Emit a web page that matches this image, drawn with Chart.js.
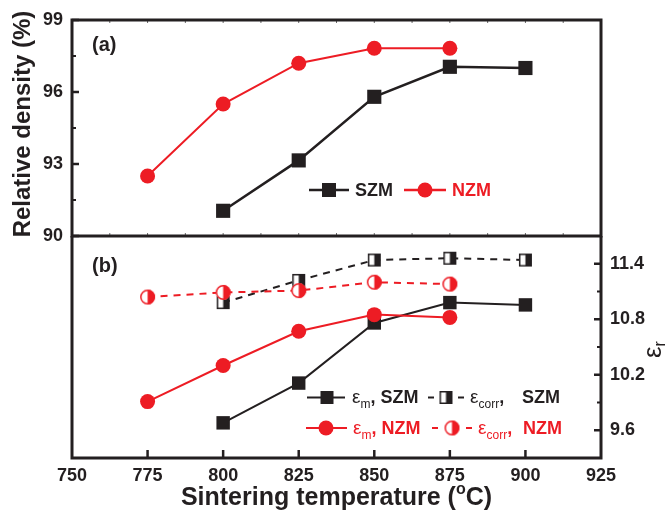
<!DOCTYPE html>
<html><head><meta charset="utf-8">
<script src="https://cdn.jsdelivr.net/npm/chart.js@4"></script>
<style>
html,body{margin:0;padding:0;background:#fff;}
#wrap{position:relative;width:669px;height:516px;background:#fff;}
#wrap canvas{position:absolute;left:0;top:0;}
</style></head><body>
<div id="wrap"><canvas id="c1" width="669" height="516"></canvas><canvas id="c2" width="669" height="516"></canvas></div>
<script>
// ---- data ----
const xTicks = [750, 775, 800, 825, 850, 875, 900, 925];
const tSZM = [800, 825, 850, 875, 900];
const tNZM = [775, 800, 825, 850, 875];
const densSZM = [91.05, 93.15, 95.8, 97.05, 97.0];
const densNZM = [92.5, 95.5, 97.2, 97.82, 97.82];
const epsM_SZM = [9.68, 10.11, 10.76, 10.98, 10.955];
const epsCorr_SZM = [10.98, 11.22, 11.44, 11.46, 11.44];
const epsM_NZM = [9.91, 10.30, 10.67, 10.85, 10.82];
const epsCorr_NZM = [11.04, 11.09, 11.11, 11.20, 11.18];
const densTicks = [90, 93, 96, 99];
const densMinor = [91.5, 94.5, 97.5];
const epsTicks = [9.6, 10.2, 10.8, 11.4];
const epsMinor = [9.9, 10.5, 11.1];

const BLACK = '#231F20', RED = '#ED1C24';
const FONT = '"Liberation Sans", Arial, Helvetica, sans-serif';
const pts = (xs, ys) => xs.map((x, i) => ({x: x, y: ys[i]}));

function halfSquare(side) {
  const s = side + 2, c = document.createElement('canvas');
  c.width = s; c.height = s;
  const g = c.getContext('2d');
  g.fillStyle = '#fff'; g.fillRect(1, 1, side, side);
  g.fillStyle = BLACK; g.fillRect(1 + side / 2, 1, side / 2, side);
  g.strokeStyle = BLACK; g.lineWidth = 1.5; g.strokeRect(1.75, 1.75, side - 1.5, side - 1.5);
  return c;
}
function halfCircle(r) {
  const s = Math.ceil(2 * r + 2), c = document.createElement('canvas');
  c.width = s; c.height = s;
  const g = c.getContext('2d'), cx = s / 2, cy = s / 2;
  g.beginPath(); g.arc(cx, cy, r, 0, 2 * Math.PI); g.fillStyle = '#fff'; g.fill();
  g.beginPath(); g.moveTo(cx, cy - r); g.arc(cx, cy, r, -Math.PI / 2, Math.PI / 2); g.closePath();
  g.fillStyle = RED; g.fill();
  g.beginPath(); g.arc(cx, cy, r - 0.75, 0, 2 * Math.PI); g.strokeStyle = RED; g.lineWidth = 1.5; g.stroke();
  return c;
}
const HSQ = halfSquare(13), HCI = halfCircle(7.5);

function seq(ctx, x, y, parts, color) {
  ctx.fillStyle = color; ctx.textAlign = 'left'; ctx.textBaseline = 'alphabetic';
  for (const p of parts) { ctx.font = p.f; ctx.fillText(p.t, x, y + (p.dy || 0)); x += ctx.measureText(p.t).width; }
  return x;
}
function line(ctx, x1, y1, x2, y2, w, color) {
  ctx.beginPath(); ctx.moveTo(x1, y1); ctx.lineTo(x2, y2);
  ctx.lineWidth = w; ctx.strokeStyle = color; ctx.stroke();
}
function sq(ctx, x, y, s, color) { ctx.fillStyle = color; ctx.fillRect(x - s / 2, y - s / 2, s, s); }
function circ(ctx, x, y, r, color) { ctx.beginPath(); ctx.arc(x, y, r, 0, 2 * Math.PI); ctx.fillStyle = color; ctx.fill(); }

const topPlugin = {
  id: 'topDeco',
  afterDraw(chart) {
    const ctx = chart.ctx, a = chart.chartArea, xs = chart.scales.x, ys = chart.scales.y;
    ctx.save();
    ctx.lineCap = 'butt';
    for (let v = 762.5; v < 925; v += 12.5) {
      const px = xs.getPixelForValue(v);
      line(ctx, px, a.top, px, a.top + 3, 1, '#666');
      line(ctx, px, a.bottom, px, a.bottom - 3, 1, '#666');
    }
    densTicks.forEach(v => { const py = ys.getPixelForValue(v); line(ctx, a.left, py, a.left + 7, py, 2.5, BLACK); });
    densMinor.forEach(v => { const py = ys.getPixelForValue(v); line(ctx, a.left, py, a.left + 4, py, 2, BLACK); });
    ctx.lineJoin = 'miter'; ctx.lineWidth = 3; ctx.strokeStyle = BLACK;
    ctx.strokeRect(a.left, a.top, a.right - a.left, a.bottom - a.top);
    ctx.font = 'bold 20px ' + FONT; ctx.fillStyle = BLACK; ctx.textAlign = 'left'; ctx.textBaseline = 'middle';
    ctx.fillText('(a)', 92, 45);
    ctx.save(); ctx.translate(30, 124); ctx.rotate(-Math.PI / 2);
    ctx.font = 'bold 24px ' + FONT; ctx.textAlign = 'center'; ctx.textBaseline = 'alphabetic';
    ctx.fillText('Relative density (%)', 0, 0); ctx.restore();
    line(ctx, 309, 190, 349, 190, 2.5, BLACK); sq(ctx, 329, 190, 14, BLACK);
    seq(ctx, 355, 196, [{t: 'SZM', f: 'bold 18px ' + FONT}], BLACK);
    line(ctx, 404, 190, 446, 190, 2.5, RED); circ(ctx, 425, 190, 7.5, RED);
    seq(ctx, 452, 196, [{t: 'NZM', f: 'bold 18px ' + FONT}], RED);
    ctx.restore();
  }
};

const botPlugin = {
  id: 'botDeco',
  afterDraw(chart) {
    const ctx = chart.ctx, a = chart.chartArea, xs = chart.scales.x, ys = chart.scales.y;
    ctx.save();
    xTicks.slice(1, -1).forEach(v => { const px = xs.getPixelForValue(v); line(ctx, px, a.bottom, px, a.bottom - 8, 2.5, BLACK); });
    epsTicks.forEach(v => { const py = ys.getPixelForValue(v); line(ctx, a.right, py, a.right - 7, py, 2.5, BLACK); });
    epsMinor.forEach(v => { const py = ys.getPixelForValue(v); line(ctx, a.right, py, a.right - 4, py, 2, BLACK); });
    ctx.beginPath(); ctx.moveTo(a.left, a.top); ctx.lineTo(a.left, a.bottom); ctx.lineTo(a.right, a.bottom); ctx.lineTo(a.right, a.top);
    ctx.lineJoin = 'miter'; ctx.lineWidth = 3; ctx.strokeStyle = BLACK; ctx.stroke();
    ctx.font = 'bold 20px ' + FONT; ctx.fillStyle = BLACK; ctx.textAlign = 'left'; ctx.textBaseline = 'middle';
    ctx.fillText('(b)', 92, 266);
    const parts = [{t: 'Sintering temperature (', f: 'bold 25px ' + FONT}, {t: 'o', f: 'bold 16px ' + FONT, dy: -11}, {t: 'C)', f: 'bold 25px ' + FONT}];
    let w = 0; parts.forEach(p => { ctx.font = p.f; w += ctx.measureText(p.t).width; });
    seq(ctx, (a.left + a.right) / 2 - w / 2, 505, parts, BLACK);
    ctx.save(); ctx.translate(661, 358); ctx.rotate(-Math.PI / 2);
    seq(ctx, 0, 0, [{t: 'ε', f: '26px ' + FONT}, {t: 'r', f: '16px ' + FONT, dy: 4}], BLACK);
    ctx.restore();
    const r1 = 397.5, b1 = 403;
    line(ctx, 307, r1, 345, r1, 2, BLACK); sq(ctx, 327, r1, 13, BLACK);
    seq(ctx, 352, b1, [{t: 'ε', f: '19px ' + FONT}, {t: 'm', f: '12px ' + FONT, dy: 5}, {t: ', SZM', f: 'bold 18px ' + FONT}], BLACK);
    line(ctx, 428, r1, 434, r1, 2, BLACK); line(ctx, 458, r1, 464, r1, 2, BLACK);
    ctx.drawImage(HSQ, 446 - HSQ.width / 2, r1 - HSQ.height / 2);
    seq(ctx, 470, b1, [{t: 'ε', f: '19px ' + FONT}, {t: 'corr', f: '12px ' + FONT, dy: 5}, {t: ',', f: 'bold 18px ' + FONT}], BLACK);
    seq(ctx, 522, b1, [{t: 'SZM', f: 'bold 18px ' + FONT}], BLACK);
    const r2 = 428, b2 = 434;
    line(ctx, 306, r2, 347, r2, 2, RED); circ(ctx, 326, r2, 7.5, RED);
    seq(ctx, 353, b2, [{t: 'ε', f: '19px ' + FONT}, {t: 'm', f: '12px ' + FONT, dy: 5}, {t: ', NZM', f: 'bold 18px ' + FONT}], RED);
    line(ctx, 432, r2, 438, r2, 2, RED); line(ctx, 466, r2, 472, r2, 2, RED);
    ctx.drawImage(HCI, 452 - HCI.width / 2, r2 - HCI.height / 2);
    seq(ctx, 478, b2, [{t: 'ε', f: '19px ' + FONT}, {t: 'corr', f: '12px ' + FONT, dy: 5}, {t: ',', f: 'bold 18px ' + FONT}], RED);
    seq(ctx, 523, b2, [{t: 'NZM', f: 'bold 18px ' + FONT}], RED);
    ctx.restore();
  }
};

const tickFont = {family: FONT, size: 18, weight: 'bold'};
const common = {responsive: false, animation: false, events: [], plugins: {legend: {display: false}, tooltip: {enabled: false}}};

new Chart(document.getElementById('c1'), {
  type: 'line',
  data: {datasets: [
    {label: 'NZM', data: pts(tNZM, densNZM), borderColor: RED, backgroundColor: RED, borderWidth: 2, pointStyle: 'circle', pointRadius: 7.5, pointBorderWidth: 0, order: 0},
    {label: 'SZM', data: pts(tSZM, densSZM), borderColor: BLACK, backgroundColor: BLACK, borderWidth: 2.5, pointStyle: 'rect', pointRadius: 10, pointBorderWidth: 0, order: 1}
  ]},
  options: Object.assign({}, common, {
    layout: {padding: {top: 20, right: 68, bottom: 280, left: 0}},
    scales: {
      x: {type: 'linear', min: 750, max: 925, display: false},
      y: {type: 'linear', position: 'left', min: 90, max: 99,
        afterBuildTicks: s => { s.ticks = densTicks.map(v => ({value: v})); },
        afterFit: s => { s.width = 72; },
        grid: {display: false, drawTicks: false}, border: {display: false},
        ticks: {font: tickFont, color: BLACK, padding: 9}}
    }
  }),
  plugins: [topPlugin]
});

new Chart(document.getElementById('c2'), {
  type: 'line',
  data: {datasets: [
    {label: 'εm, NZM', data: pts(tNZM, epsM_NZM), borderColor: RED, backgroundColor: RED, borderWidth: 2, pointStyle: 'circle', pointRadius: 7.5, pointBorderWidth: 0, order: 0},
    {label: 'εcorr, NZM', data: pts(tNZM, epsCorr_NZM), borderColor: RED, backgroundColor: RED, borderWidth: 2, borderDash: [7, 6], pointStyle: HCI, pointRadius: 7.5, order: 0},
    {label: 'εm, SZM', data: pts(tSZM, epsM_SZM), borderColor: BLACK, backgroundColor: BLACK, borderWidth: 2, pointStyle: 'rect', pointRadius: 9.5, pointBorderWidth: 0, order: 1},
    {label: 'εcorr, SZM', data: pts(tSZM, epsCorr_SZM), borderColor: BLACK, backgroundColor: BLACK, borderWidth: 2, borderDash: [7, 6], pointStyle: HSQ, pointRadius: 7, order: 1}
  ]},
  options: Object.assign({}, common, {
    layout: {padding: {top: 236, right: 0, bottom: 0, left: 72}},
    scales: {
      x: {type: 'linear', min: 750, max: 925,
        afterBuildTicks: s => { s.ticks = xTicks.map(v => ({value: v})); },
        afterFit: s => { s.height = 58; },
        grid: {display: false, drawTicks: false}, border: {display: false},
        ticks: {font: tickFont, color: BLACK, padding: 7, autoSkip: false, maxRotation: 0}},
      y: {type: 'linear', position: 'right', min: 9.3, max: 11.7,
        afterBuildTicks: s => { s.ticks = epsTicks.map(v => ({value: v})); },
        afterFit: s => { s.width = 68; },
        grid: {display: false, drawTicks: false}, border: {display: false},
        ticks: {font: tickFont, color: BLACK, padding: 9, callback: v => Number(v).toFixed(1)}}
    }
  }),
  plugins: [botPlugin]
});
</script>
</body></html>
